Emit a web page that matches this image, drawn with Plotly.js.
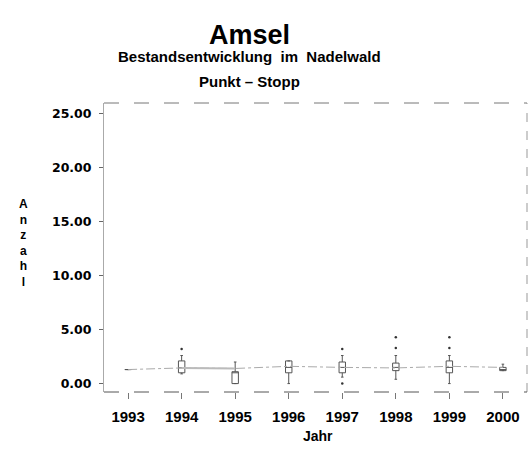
<!DOCTYPE html>
<html><head><meta charset="utf-8">
<script src="https://cdn.plot.ly/plotly-3.0.1.min.js"></script>
<style>body{margin:0;background:#fff}#c{width:531px;height:458px}</style>
</head><body><div id="c"></div>
<script>
var years   = [1993, 1994, 1995, 1996, 1997, 1998, 1999, 2000];
var lower   = [1.3, 0.9, 0.0, 0.0, 0.6, 0.4, 0.0, 1.2];
var q1      = [1.3, 1.0, 0.0, 1.0, 1.0, 1.2, 1.0, 1.2];
var median  = [1.3, 1.45, 1.0, 1.5, 1.5, 1.5, 1.5, 1.3];
var q3      = [1.3, 2.1, 1.1, 2.1, 2.0, 1.9, 2.1, 1.5];
var upper   = [1.3, 2.6, 2.0, 2.1, 2.6, 2.6, 2.6, 1.8];
var means   = [1.3, 1.45, 1.4, 1.6, 1.5, 1.45, 1.6, 1.5];
var outX    = [1994, 1997, 1997, 1998, 1998, 1999, 1999];
var outY    = [3.2, 3.2, 0.0, 4.3, 3.3, 4.3, 3.3];
var yTicks  = [0, 5, 10, 15, 20, 25];
var yLabels = ["0.00", "5.00", "10.00", "15.00", "20.00", "25.00"];
var yTitle  = "Anzahl";

var traces = [
  {type:'scatter', mode:'lines', x: years, y: means,
   line:{color:'#aaa', width:1, dash:'dashdot'}, hoverinfo:'skip'},
  {type:'scatter', mode:'lines', x: years.slice(1,3), y: means.slice(1,3),
   line:{color:'#bbb', width:2}, hoverinfo:'skip'},
  {type:'box', x: years, q1: q1, median: median, q3: q3,
   lowerfence: lower, upperfence: upper, width: 0.12,
   fillcolor:'rgba(0,0,0,0)', line:{color:'#555', width:1},
   whiskerwidth: 0.4, boxpoints:false},
  {type:'scatter', mode:'markers', x: outX, y: outY,
   marker:{color:'#333', size:2.5}, hoverinfo:'skip'}
];

var fam = 'Liberation Sans, Arial, sans-serif';
var ann = [
  {text:'Amsel', xref:'paper', yref:'paper', x:0.345, y:1, yshift:85, showarrow:false,
   font:{family:fam, size:27, color:'#000', weight:'bold'}},
  {text:'Bestandsentwicklung  im  Nadelwald', xref:'paper', yref:'paper', x:0.345, y:1, yshift:57, showarrow:false,
   font:{family:fam, size:15, color:'#000', weight:'bold'}},
  {text:'Punkt – Stopp', xref:'paper', yref:'paper', x:0.345, y:1, yshift:32, showarrow:false,
   font:{family:fam, size:15, color:'#000', weight:'bold'}},
  {text:'Jahr', xref:'paper', yref:'paper', x:0.505, y:0, yshift:-54, showarrow:false,
   font:{family:fam, color:'#000', size:14, weight:'bold'}},
  {text: yTitle.split('').join('<br>'), xref:'paper', yref:'paper', x:0, xshift:-87, y:0.515,
   showarrow:false, font:{family:fam, color:'#000', size:12, weight:'bold'}}
];

var layout = {
  width:531, height:458, showlegend:false,
  paper_bgcolor:'#fff', plot_bgcolor:'#fff',
  margin:{l:104, r:4, t:103, b:66},
  xaxis:{range:[1992.55, 2000.45], tickvals: years, ticktext: years.map(String),
    showgrid:false, zeroline:false, showline:false, ticks:'outside', ticklen:6,
    tickcolor:'#777', tickfont:{family:fam, color:'#000', size:15, weight:'bold'},
    ticklabelstandoff:5},
  yaxis:{range:[-0.78, 26.0], tickvals: yTicks, ticktext: yLabels,
    showgrid:false, zeroline:false, showline:true, linecolor:'#aaa', linewidth:1,
    ticks:'outside', ticklen:4, tickcolor:'#666',
    tickfont:{family:'DejaVu Sans, sans-serif', color:'#000', size:12.5, weight:'bold'},
    ticklabelstandoff:5},
  shapes:[
    {type:'line', xref:'paper', yref:'paper', x0:0, x1:1, y0:1, y1:1,
     line:{color:'#777', width:1, dash:'longdash'}},
    {type:'line', xref:'paper', yref:'paper', x0:1, x1:1, y0:0, y1:1,
     line:{color:'#999', width:1, dash:'dash'}},
    {type:'line', xref:'paper', yref:'paper', x0:0, x1:1, y0:0, y1:0,
     line:{color:'#555', width:1, dash:'longdash'}}
  ],
  annotations: ann
};
Plotly.newPlot('c', traces, layout, {displayModeBar:false, staticPlot:true});
</script></body></html>
